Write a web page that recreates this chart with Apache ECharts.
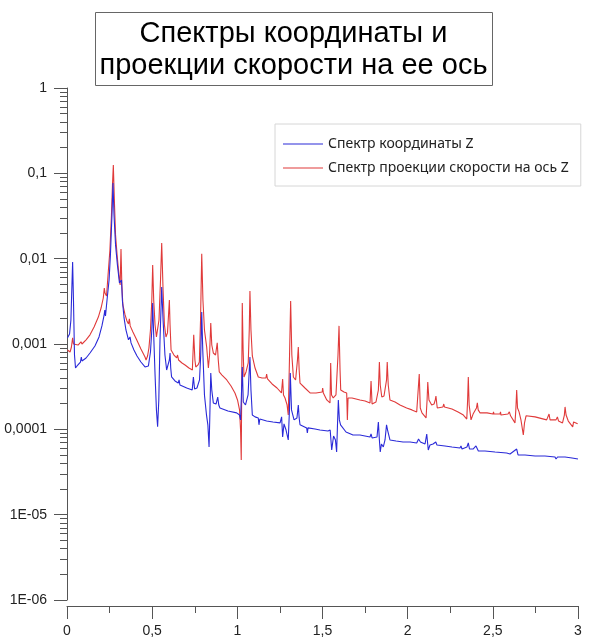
<!DOCTYPE html>
<html>
<head>
<meta charset="utf-8">
<script src="https://cdn.jsdelivr.net/npm/echarts@6/dist/echarts.min.js"></script>
<style>
  html, body { margin: 0; padding: 0; background: #fff; }
  #chart { width: 590px; height: 642px; }
</style>
</head>
<body>
<div id="chart"></div>
<script>
// Spectrum of the Z coordinate (frequency, amplitude)
const freqZ = [0.003,0.015,0.023,0.029,0.033,0.038,0.044,0.050,0.059,0.070,0.079,0.084,0.088,0.112,0.135,0.164,0.188,0.205,0.217,0.222,0.226,0.235,0.247,0.255,0.264,0.270,0.276,0.285,0.296,0.308,0.317,0.320,0.325,0.335,0.346,0.361,0.370,0.376,0.393,0.411,0.434,0.458,0.478,0.490,0.498,0.503,0.508,0.517,0.525,0.532,0.539,0.546,0.556,0.564,0.575,0.585,0.593,0.601,0.605,0.609,0.614,0.634,0.653,0.658,0.663,0.703,0.735,0.742,0.749,0.763,0.778,0.785,0.791,0.797,0.807,0.819,0.827,0.834,0.838,0.844,0.850,0.859,0.875,0.885,0.891,0.898,0.945,0.996,1.013,1.019,1.024,1.029,1.035,1.048,1.063,1.070,1.074,1.080,1.088,1.104,1.123,1.127,1.132,1.172,1.209,1.251,1.260,1.266,1.274,1.286,1.299,1.306,1.311,1.318,1.333,1.350,1.358,1.363,1.368,1.407,1.411,1.415,1.456,1.485,1.532,1.545,1.554,1.565,1.576,1.583,1.588,1.593,1.599,1.606,1.638,1.679,1.720,1.779,1.785,1.791,1.820,1.828,1.834,1.839,1.846,1.857,1.867,1.876,1.882,1.896,1.932,1.973,2.014,2.053,2.064,2.068,2.075,2.102,2.112,2.121,2.131,2.149,2.165,2.172,2.219,2.260,2.307,2.313,2.319,2.348,2.356,2.363,2.384,2.401,2.415,2.454,2.513,2.581,2.589,2.601,2.640,2.648,2.689,2.748,2.806,2.865,2.871,2.880,2.924,2.930,2.935,2.965,3.000];
const specZ = [0.00118,0.00131,0.00191,0.00492,0.00914,0.00328,0.000743,0.000523,0.000553,0.000583,0.000615,0.000704,0.000632,0.000686,0.000785,0.000948,0.00121,0.00163,0.00213,0.00250,0.00213,0.00328,0.00563,0.0111,0.0325,0.0771,0.0325,0.0145,0.00843,0.00519,0.00492,0.00563,0.00328,0.00202,0.00146,0.00112,0.00121,0.00103,0.000851,0.000724,0.000615,0.000538,0.000553,0.000806,0.00146,0.00303,0.00146,0.000433,0.000169,0.000107,0.000221,0.00112,0.00466,0.00191,0.000743,0.000496,0.000523,0.000650,0.000785,0.000523,0.000411,0.000369,0.000349,0.000379,0.000331,0.000305,0.000289,0.000411,0.000297,0.000305,0.000379,0.000743,0.00237,0.000851,0.000253,0.000147,0.000113,0.0000621,0.000129,0.000457,0.000289,0.000204,0.000198,0.000239,0.000193,0.000178,0.000164,0.000156,0.000147,0.000129,0.000253,0.000538,0.000209,0.000193,0.000253,0.000496,0.000704,0.000289,0.000147,0.000140,0.000136,0.000113,0.000132,0.000125,0.000122,0.000119,0.000140,0.0000813,0.000116,0.0000982,0.0000750,0.000169,0.000457,0.000169,0.000129,0.000136,0.000193,0.000136,0.000113,0.000104,0.0000906,0.000104,0.000101,0.0000982,0.0000956,0.0000982,0.0000573,0.0000835,0.0000750,0.0000543,0.000113,0.000221,0.000129,0.000113,0.0000931,0.0000858,0.0000858,0.0000813,0.0000882,0.0000792,0.0000813,0.000122,0.0000750,0.0000543,0.0000673,0.0000621,0.0000750,0.000113,0.0000982,0.0000750,0.0000730,0.0000711,0.0000711,0.0000692,0.0000771,0.0000792,0.0000711,0.0000673,0.0000882,0.0000573,0.0000655,0.0000673,0.0000711,0.0000655,0.0000638,0.0000621,0.0000604,0.0000638,0.0000588,0.0000621,0.0000692,0.0000588,0.0000588,0.0000638,0.0000558,0.0000558,0.0000543,0.0000528,0.0000501,0.0000514,0.0000588,0.0000501,0.0000501,0.0000487,0.0000487,0.0000474,0.0000449,0.0000474,0.0000474,0.0000487,0.0000462,0.0000462,0.0000449];

// Spectrum of the velocity projection on Z (frequency, amplitude)
const freqV = [0.003,0.018,0.026,0.033,0.038,0.044,0.065,0.076,0.082,0.088,0.112,0.135,0.159,0.184,0.200,0.213,0.219,0.223,0.232,0.241,0.252,0.261,0.267,0.272,0.278,0.285,0.294,0.305,0.312,0.317,0.322,0.328,0.341,0.352,0.361,0.366,0.371,0.387,0.409,0.434,0.458,0.464,0.473,0.481,0.490,0.498,0.503,0.509,0.517,0.525,0.531,0.540,0.549,0.556,0.564,0.572,0.581,0.590,0.596,0.601,0.605,0.611,0.628,0.644,0.649,0.655,0.675,0.693,0.716,0.736,0.744,0.751,0.756,0.769,0.777,0.784,0.791,0.798,0.807,0.820,0.830,0.837,0.844,0.850,0.859,0.872,0.882,0.888,0.894,0.910,0.938,0.963,0.986,1.001,1.013,1.019,1.023,1.026,1.029,1.034,1.039,1.051,1.064,1.070,1.074,1.080,1.088,1.104,1.123,1.145,1.168,1.172,1.177,1.204,1.233,1.259,1.266,1.271,1.280,1.292,1.299,1.306,1.313,1.320,1.329,1.342,1.353,1.358,1.363,1.368,1.397,1.427,1.462,1.498,1.501,1.505,1.525,1.544,1.548,1.553,1.563,1.579,1.591,1.597,1.603,1.607,1.626,1.642,1.646,1.650,1.673,1.697,1.720,1.750,1.779,1.785,1.791,1.814,1.828,1.834,1.839,1.848,1.861,1.876,1.880,1.886,1.896,1.926,1.955,1.994,2.025,2.053,2.062,2.068,2.074,2.084,2.108,2.114,2.118,2.125,2.141,2.155,2.162,2.166,2.171,2.174,2.207,2.212,2.216,2.260,2.296,2.327,2.347,2.352,2.356,2.361,2.372,2.384,2.404,2.409,2.414,2.425,2.466,2.501,2.504,2.507,2.542,2.545,2.548,2.589,2.597,2.604,2.630,2.635,2.640,2.645,2.654,2.665,2.679,2.686,2.695,2.748,2.816,2.830,2.836,2.871,2.879,2.886,2.909,2.914,2.920,2.924,2.930,2.943,2.953,2.969,2.974,2.982,2.998];
const specV = [0.000851,0.000806,0.000922,0.00118,0.00100,0.000948,0.000973,0.00100,0.00106,0.00100,0.00112,0.00128,0.00158,0.00207,0.00264,0.00346,0.00453,0.00396,0.00366,0.00644,0.0127,0.0325,0.0730,0.125,0.0487,0.0190,0.0111,0.00644,0.00492,0.0130,0.00492,0.00287,0.00219,0.00186,0.00172,0.00197,0.00163,0.00138,0.00112,0.000874,0.000704,0.000650,0.000724,0.000898,0.00146,0.00328,0.00843,0.00328,0.00167,0.00121,0.00118,0.00191,0.00563,0.0153,0.00430,0.00167,0.00121,0.00135,0.00219,0.00328,0.00167,0.000851,0.000743,0.000686,0.000743,0.000650,0.000599,0.000568,0.000523,0.000496,0.00128,0.000650,0.000538,0.000568,0.000615,0.00191,0.0114,0.00328,0.00146,0.000922,0.000523,0.000743,0.00176,0.000973,0.000785,0.000743,0.00103,0.000650,0.000470,0.000433,0.000379,0.000322,0.000267,0.000221,0.000169,0.0000982,0.0000437,0.000379,0.00303,0.000851,0.000411,0.000470,0.000599,0.00146,0.00418,0.00146,0.000724,0.000523,0.000411,0.000400,0.000400,0.000445,0.000389,0.000340,0.000305,0.000267,0.000389,0.000253,0.000233,0.000193,0.000147,0.000650,0.00319,0.000743,0.000411,0.000379,0.000650,0.000922,0.000496,0.000349,0.000305,0.000267,0.000267,0.000274,0.000305,0.000267,0.000221,0.000204,0.000599,0.000253,0.000233,0.000253,0.000743,0.00163,0.000496,0.000289,0.000274,0.000267,0.000129,0.000233,0.000233,0.000227,0.000221,0.000215,0.000204,0.000369,0.000198,0.000209,0.000289,0.000615,0.000331,0.000239,0.000246,0.000379,0.000615,0.000331,0.000221,0.000209,0.000193,0.000178,0.000169,0.000160,0.000160,0.000445,0.000178,0.000156,0.000136,0.000221,0.000359,0.000221,0.000193,0.000198,0.000221,0.000246,0.000198,0.000178,0.000183,0.000198,0.000183,0.000173,0.000160,0.000147,0.000132,0.000221,0.000411,0.000193,0.000129,0.000151,0.000178,0.000204,0.000169,0.000156,0.000156,0.000151,0.000160,0.000151,0.000151,0.000160,0.000147,0.000151,0.000160,0.000144,0.000119,0.000169,0.000289,0.000178,0.000160,0.000129,0.0000858,0.000119,0.000144,0.000140,0.000129,0.000151,0.000129,0.000129,0.000140,0.000125,0.000119,0.000113,0.000147,0.000183,0.000147,0.000125,0.000122,0.000107,0.000122,0.000119,0.000116];

const seriesNames = ['Спектр координаты Z', 'Спектр проекции скорости на ось Z'];
const seriesColors = ['#2a2ad8', '#e03a3a'];

// Axis ticks and their printed labels
const xTicks = [0, 0.5, 1, 1.5, 2, 2.5, 3];
const xTickLabels = ['0', '0,5', '1', '1,5', '2', '2,5', '3'];
const yTicks = [1e-6, 1e-5, 1e-4, 1e-3, 1e-2, 1e-1, 1];
const yTickLabels = ['1E-06', '1E-05', '0,0001', '0,001', '0,01', '0,1', '1'];

// Minor log ticks 2..9 inside each decade
const yMinorTicks = [];
for (let i = 0; i < yTicks.length - 1; i++) {
  for (let k = 2; k <= 9; k++) yMinorTicks.push(k * yTicks[i]);
}

function pairs(xs, ys) { return xs.map((x, i) => [x, ys[i]]); }

function yLabel(v) {
  const e = Math.round(Math.log10(v));
  const i = yTicks.findIndex(t => Math.round(Math.log10(t)) === e);
  return i >= 0 ? yTickLabels[i] : '';
}
function xLabel(v) {
  const i = xTicks.findIndex(t => Math.abs(t - v) < 1e-9);
  return i >= 0 ? xTickLabels[i] : '';
}

const axisColor = '#555';
const labelFont = { fontFamily: 'Liberation Sans', fontSize: 14, color: '#222' };

const chart = echarts.init(document.getElementById('chart'), null, { renderer: 'canvas' });
chart.setOption({
  animation: false,
  backgroundColor: '#fff',
  grid: { left: 67, right: 12, top: 88, bottom: 42, outerBoundsMode: 'none', containLabel: false },
  graphic: [
    {
      type: 'rect',
      shape: { x: 95.5, y: 12.5, width: 397, height: 73 },
      style: { fill: '#fff', stroke: '#666', lineWidth: 1 },
      z: 10
    },
    {
      type: 'text',
      x: 293.5, y: 18,
      style: {
        text: 'Спектры координаты и\nпроекции скорости на ее ось',
        fontFamily: 'Liberation Sans', fontSize: 29, lineHeight: 32,
        align: 'center', verticalAlign: 'top', fill: '#000'
      },
      z: 11
    }
  ],
  legend: {
    data: seriesNames,
    orient: 'vertical',
    left: 275, top: 124,
    padding: [13, 12, 11, 8],
    itemGap: 10,
    itemWidth: 40, itemHeight: 1,
    icon: 'rect',
    borderColor: '#d6d6d6', borderWidth: 1,
    backgroundColor: '#fff',
    textStyle: { fontFamily: 'Noto Sans', fontSize: 14, color: '#222' }
  },
  xAxis: {
    type: 'value',
    min: 0, max: 3, interval: 0.5,
    offset: 6,
    axisLine: { show: true, lineStyle: { color: axisColor, width: 1 } },
    axisTick: { show: true, length: 13, lineStyle: { color: axisColor } },
    minorTick: { show: true, splitNumber: 2, length: 7, lineStyle: { color: axisColor } },
    axisLabel: Object.assign({ margin: 18, formatter: xLabel }, labelFont),
    splitLine: { show: false }
  },
  yAxis: [
    {
      type: 'log', logBase: 10, min: 1e-6, max: 1,
      position: 'left',
      axisLine: { show: true, lineStyle: { color: axisColor, width: 1 } },
      axisTick: { show: true, length: 13, lineStyle: { color: axisColor } },
      axisLabel: Object.assign({ margin: 20, formatter: yLabel }, labelFont),
      splitLine: { show: false }
    },
    {
      type: 'log', logBase: 10, min: 1e-6, max: 1,
      position: 'left', offset: 0,
      axisLine: { show: false },
      axisTick: { show: true, length: 7, customValues: yMinorTicks, lineStyle: { color: axisColor } },
      axisLabel: { show: false },
      splitLine: { show: false }
    }
  ],
  series: [
    {
      name: seriesNames[0], type: 'line', data: pairs(freqZ, specZ),
      showSymbol: false, symbol: 'none',
      lineStyle: { color: seriesColors[0], width: 1.1 }, itemStyle: { color: seriesColors[0] },
      z: 3
    },
    {
      name: seriesNames[1], type: 'line', data: pairs(freqV, specV),
      showSymbol: false, symbol: 'none',
      lineStyle: { color: seriesColors[1], width: 1.1 }, itemStyle: { color: seriesColors[1] },
      z: 2
    }
  ]
});
</script>
</body>
</html>
